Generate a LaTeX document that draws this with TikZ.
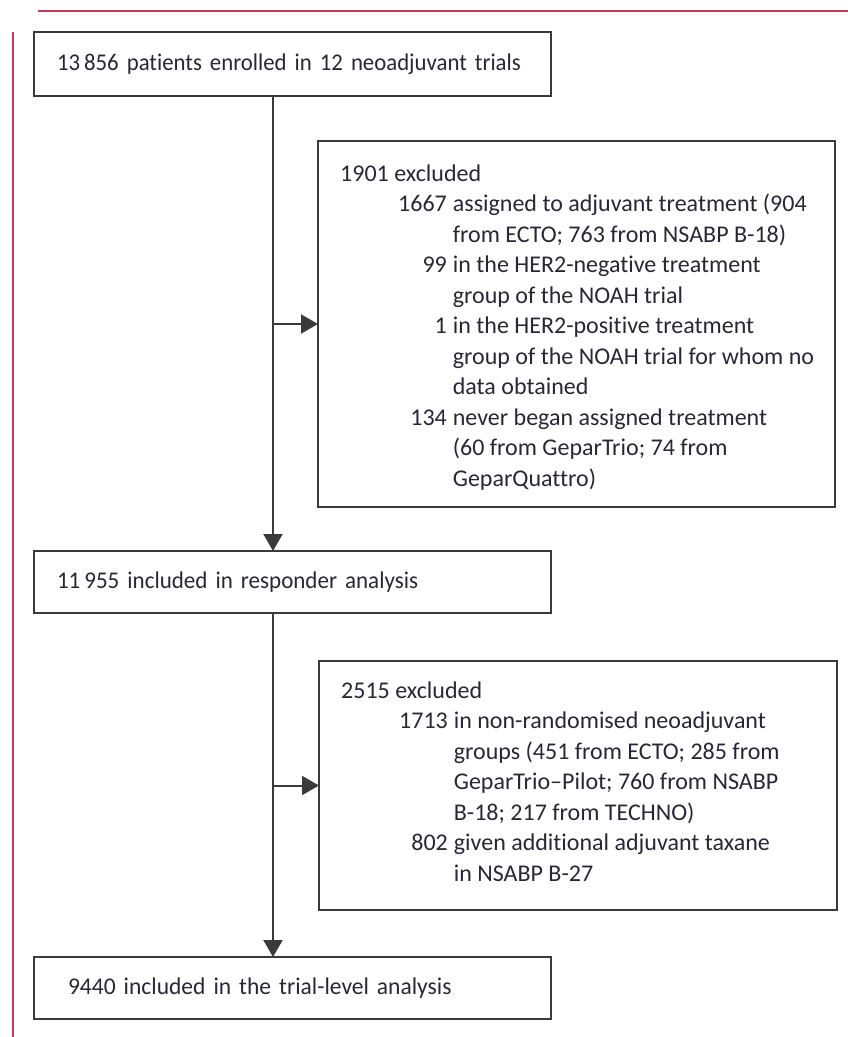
\documentclass[tikz,border=0pt]{standalone}
\usepackage{fontspec}
\setmainfont{Carlito}[Ligatures=NoCommon]
\newfontfamily\stretchA{Carlito}[Ligatures=NoCommon,FakeStretch=0.95]
\newfontfamily\stretchB{Carlito}[Ligatures=NoCommon,FakeStretch=0.96]
\newfontfamily\stretchC{Carlito}[Ligatures=NoCommon,FakeStretch=0.98]
\usetikzlibrary{arrows.meta}
\definecolor{lancetred}{RGB}{198,56,92}
\definecolor{boxline}{RGB}{58,58,58}
\definecolor{txt}{RGB}{40,40,52}
\begin{document}
\begin{tikzpicture}[x=1pt,y=-1pt,
  every node/.style={font=\fontsize{24}{30.5}\selectfont, text=txt},
  frame/.style={draw=boxline, line width=2pt, rectangle, anchor=north west, outer sep=0pt, inner sep=0pt},
  onebox/.style={frame, minimum width=517pt, align=left},
  conn/.style={draw=boxline, line width=2pt, -{Triangle[length=17pt,width=19pt]}},
  rulestyle/.style={draw=lancetred, line width=2.5pt},
  listtext/.style={anchor=base west, inner sep=0pt}]
\useasboundingbox (0,0) rectangle (848,1037);
% page rules
\draw[rulestyle] (38,11) -- (848,11);
\draw[rulestyle] (13,32) -- (13,1037);
% main boxes
\node[onebox, minimum height=64pt, text width=471pt, inner xsep=23pt] (enrol) at (34,32)
  {\mbox{\stretchA 13\,856 patients enrolled in 12 neoadjuvant trials}};
\node[onebox, minimum height=62pt, text width=471pt, inner xsep=23pt] (resp) at (34,551)
  {\mbox{\stretchB 11\,955 included in responder analysis}};
\node[onebox, minimum height=62pt, text width=449pt, inner xsep=34pt] (final) at (34,957)
  {\mbox{\stretchC 9440 included in the trial-level analysis}};
% exclusion boxes
\node[frame, minimum width=517pt, minimum height=366pt] (excl1) at (318,141) {};
\node[listtext] (excl1text) at (340,181) {\begin{tabular}[t]{@{\hspace{58pt}}r@{\hspace{6pt}}l@{}}
\multicolumn{2}{@{}l@{}}{1901 excluded}\\
1667 & assigned to adjuvant treatment (904\\
 & from ECTO; 763 from NSABP B-18)\\
99 & in the HER2-negative treatment\\
 & group of the NOAH trial\\
1 & in the HER2-positive treatment\\
 & group of the NOAH trial for whom no\\
 & data obtained\\
134 & never began assigned treatment\\
 & (60 from GeparTrio; 74 from\\
 & GeparQuattro)
\end{tabular}};
\node[frame, minimum width=518pt, minimum height=249pt] (excl2) at (319,661) {};
\node[listtext] (excl2text) at (341,698) {\begin{tabular}[t]{@{\hspace{58pt}}r@{\hspace{6pt}}l@{}}
\multicolumn{2}{@{}l@{}}{2515 excluded}\\
1713 & in non-randomised neoadjuvant\\
 & groups (451 from ECTO; 285 from\\
 & GeparTrio–Pilot; 760 from NSABP\\
 & B-18; 217 from TECHNO)\\
802 & given additional adjuvant taxane\\
 & in NSABP B-27
\end{tabular}};
% connectors
\coordinate (spine) at (273,0);
\draw[conn] (enrol.south -| spine) -- (resp.north -| spine);
\draw[conn] (excl1.west -| spine) -- (excl1.west);
\draw[conn] (resp.south -| spine) -- (final.north -| spine);
\draw[conn] (excl2.west -| spine) -- (excl2.west);
\end{tikzpicture}
\end{document}
